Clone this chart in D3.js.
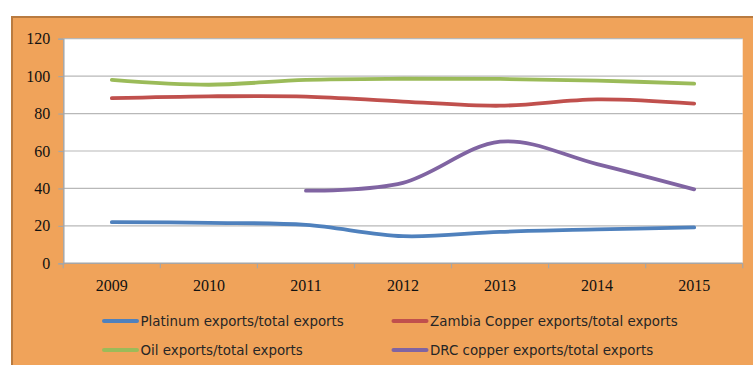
<!DOCTYPE html>
<html>
<head>
<meta charset="utf-8">
<script src="https://cdn.jsdelivr.net/npm/d3@7"></script>
<style>
  html, body { margin: 0; padding: 0; background: #ffffff; }
  svg { display: block; }
</style>
</head>
<body>
<svg id="chart" width="753" height="365"></svg>
<script>
// Export shares by year (percent of total exports)
const years = ["2009", "2010", "2011", "2012", "2013", "2014", "2015"];
const platinum = [22, 21.6, 20.5, 14.5, 16.8, 18.1, 19.2];
const zambiaCopper = [88.2, 89.2, 89.1, 86.4, 84.2, 87.6, 85.3];
const oil = [98, 95.4, 98, 98.6, 98.5, 97.6, 96];
const drcCopper = [null, null, 38.8, 43, 65, 53, 39.5];
const yTicks = [0, 20, 40, 60, 80, 100, 120];

const series = [
  { name: "Platinum exports/total exports", values: platinum, color: "#4F81BD" },
  { name: "Zambia Copper exports/total exports", values: zambiaCopper, color: "#C0504D" },
  { name: "Oil exports/total exports", values: oil, color: "#9BBB59" },
  { name: "DRC copper exports/total exports", values: drcCopper, color: "#8064A2" }
];

const svg = d3.select("#chart");

// orange chart frame with darker top/left edge
svg.append("rect").attr("x", 11).attr("y", 16).attr("width", 760).attr("height", 360)
  .attr("fill", "#B97B40");
svg.append("rect").attr("x", 13).attr("y", 18).attr("width", 760).attr("height", 360)
  .attr("fill", "#F0A35A");

const plot = { left: 63.3, top: 38.7, right: 742.7, bottom: 263.3 };

const x = d3.scaleBand().domain(years).range([plot.left, plot.right]);
const y = d3.scaleLinear().domain([0, 120]).range([plot.bottom, plot.top]);

// plot background
svg.append("rect")
  .attr("x", plot.left).attr("y", plot.top)
  .attr("width", plot.right - plot.left).attr("height", plot.bottom - plot.top)
  .attr("fill", "#ffffff");

// horizontal gridlines
svg.append("g").selectAll("line").data(yTicks.filter(d => d > 0)).join("line")
  .attr("x1", plot.left).attr("x2", plot.right)
  .attr("y1", d => y(d)).attr("y2", d => y(d))
  .attr("stroke", "#B8B8B8").attr("stroke-width", 1.2);

// y axis
const yAxis = svg.append("g")
  .attr("transform", `translate(${plot.left},0)`)
  .call(d3.axisLeft(y).tickValues(yTicks).tickSize(5).tickPadding(8));
yAxis.select(".domain").attr("stroke", "#A6A6A6").attr("stroke-width", 1.5);
yAxis.selectAll(".tick line").attr("stroke", "#A6A6A6").attr("stroke-width", 1.2);
yAxis.selectAll("text")
  .attr("font-family", "'Liberation Serif', 'Times New Roman', serif")
  .attr("font-size", 16).attr("fill", "#111");

// x axis with ticks between categories
const xAxisG = svg.append("g").attr("transform", `translate(0,${plot.bottom})`);
xAxisG.append("line")
  .attr("x1", plot.left).attr("x2", plot.right)
  .attr("stroke", "#A6A6A6").attr("stroke-width", 1.5);
const bounds = years.map(d => x(d)).concat([x(years[years.length - 1]) + x.bandwidth()]);
xAxisG.selectAll("line.tk").data(bounds).join("line").attr("class", "tk")
  .attr("x1", d => d).attr("x2", d => d).attr("y1", 0).attr("y2", 5)
  .attr("stroke", "#A6A6A6").attr("stroke-width", 1.2);
xAxisG.selectAll("text").data(years).join("text")
  .attr("x", d => x(d) + x.bandwidth() / 2)
  .attr("y", 28)
  .attr("text-anchor", "middle")
  .attr("font-family", "'Liberation Serif', 'Times New Roman', serif")
  .attr("font-size", 16).attr("fill", "#111")
  .text(d => d);

// smoothed series lines
const line = d3.line()
  .defined(d => d != null)
  .x((d, i) => x(years[i]) + x.bandwidth() / 2)
  .y(d => y(d))
  .curve(d3.curveCatmullRom.alpha(0));

svg.append("g").selectAll("path").data(series).join("path")
  .attr("d", s => line(s.values))
  .attr("fill", "none")
  .attr("stroke", s => s.color)
  .attr("stroke-width", 3.8)
  .attr("stroke-linecap", "round");

// legend: two columns, two rows
const legendPos = [
  { lx: 104, ty: 321 }, { lx: 393.5, ty: 321 },
  { lx: 104, ty: 350 }, { lx: 393.5, ty: 350 }
];
const legend = svg.append("g").selectAll("g").data(series).join("g")
  .attr("transform", (s, i) => `translate(${legendPos[i].lx},${legendPos[i].ty})`);
legend.append("line")
  .attr("x1", 0).attr("x2", 33).attr("y1", 0).attr("y2", 0)
  .attr("stroke", s => s.color).attr("stroke-width", 4).attr("stroke-linecap", "round");
legend.append("text")
  .attr("x", 36.5).attr("y", 0).attr("dy", "0.36em")
  .attr("font-family", "'DejaVu Sans', Verdana, sans-serif")
  .attr("font-size", 13.4).attr("fill", "#262626")
  .text(s => s.name);
</script>
</body>
</html>
